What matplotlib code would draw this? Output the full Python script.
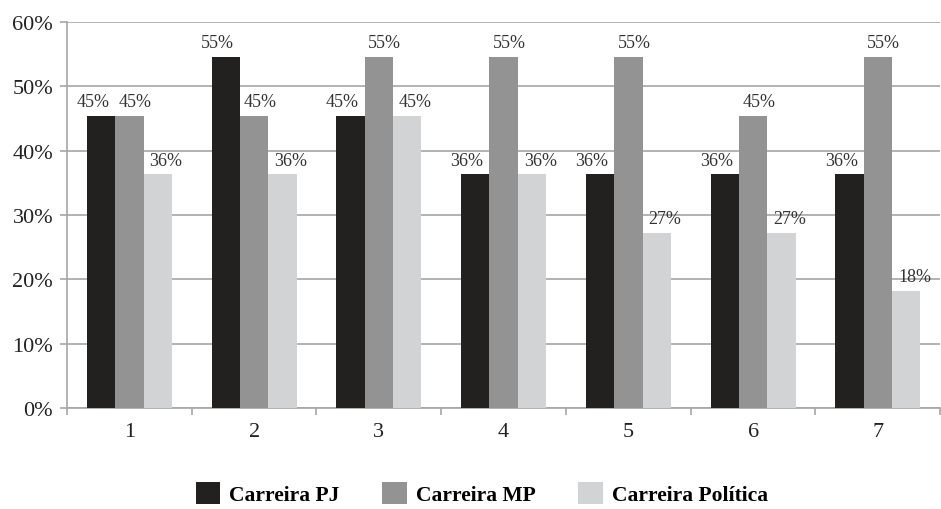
import matplotlib.pyplot as plt
import numpy as np

# survey results per question, share of respondents (%)
questions = ["1", "2", "3", "4", "5", "6", "7"]
carreira_pj = [45.45, 54.55, 45.45, 36.36, 36.36, 36.36, 36.36]
carreira_mp = [45.45, 45.45, 54.55, 54.55, 54.55, 45.45, 54.55]
carreira_politica = [36.36, 36.36, 45.45, 36.36, 27.27, 27.27, 18.18]
series_names = ["Carreira PJ", "Carreira MP", "Carreira Política"]

colors = ["#222120", "#939393", "#d2d3d5"]
grid_col = "#a6a6a6"

plt.rcParams['font.family'] = ['Liberation Serif', 'DejaVu Serif']

fig = plt.figure(figsize=(9.41, 5.10), dpi=100)
ax = fig.add_axes([0.0712, 0.198, 0.928, 0.757])

x = np.arange(len(questions))
w = 0.227
series = [carreira_pj, carreira_mp, carreira_politica]
label_shift = [-6, 4, 6]

for i, (vals, name) in enumerate(zip(series, series_names)):
    pos = x + (i - 1) * w
    ax.bar(pos, vals, w, color=colors[i], label=name, zorder=3)
    for px, v in zip(pos, vals):
        ax.annotate("%.0f%%" % v, (px, v), xytext=(label_shift[i], 4),
                    textcoords="offset points", ha="center", va="bottom",
                    fontsize=13, color="#333333", zorder=4)

ax.set_xlim(-0.5, len(questions) - 0.5)
ax.set_ylim(0, 60)
ax.set_yticks(np.arange(0, 61, 10))
ax.set_yticklabels(["%d%%" % t for t in range(0, 61, 10)])
ax.set_xticks(x)
ax.set_xticklabels(questions)
ax.set_xticks(np.arange(-0.5, len(questions), 1), minor=True)

ax.yaxis.grid(True, color=grid_col, linewidth=1.2, zorder=0)
ax.tick_params(axis='y', length=5, width=1.2, color=grid_col, labelsize=16,
               labelcolor="#222222", pad=5)
ax.tick_params(axis='x', which='major', length=0, labelsize=16,
               labelcolor="#222222", pad=10)
ax.tick_params(axis='x', which='minor', length=5, width=1.2, color=grid_col)

for s in ["top", "right"]:
    ax.spines[s].set_visible(False)
for s in ["left", "bottom"]:
    ax.spines[s].set_color(grid_col)
    ax.spines[s].set_linewidth(1.2)

fig.legend(loc="center", bbox_to_anchor=(0.512, 0.03), ncol=3, frameon=False,
           prop={'weight': 'bold', 'size': 15.5}, handlelength=1.15,
           handleheight=1.15, handletextpad=0.4, columnspacing=2.0)

plt.savefig("out.png", dpi=100)
